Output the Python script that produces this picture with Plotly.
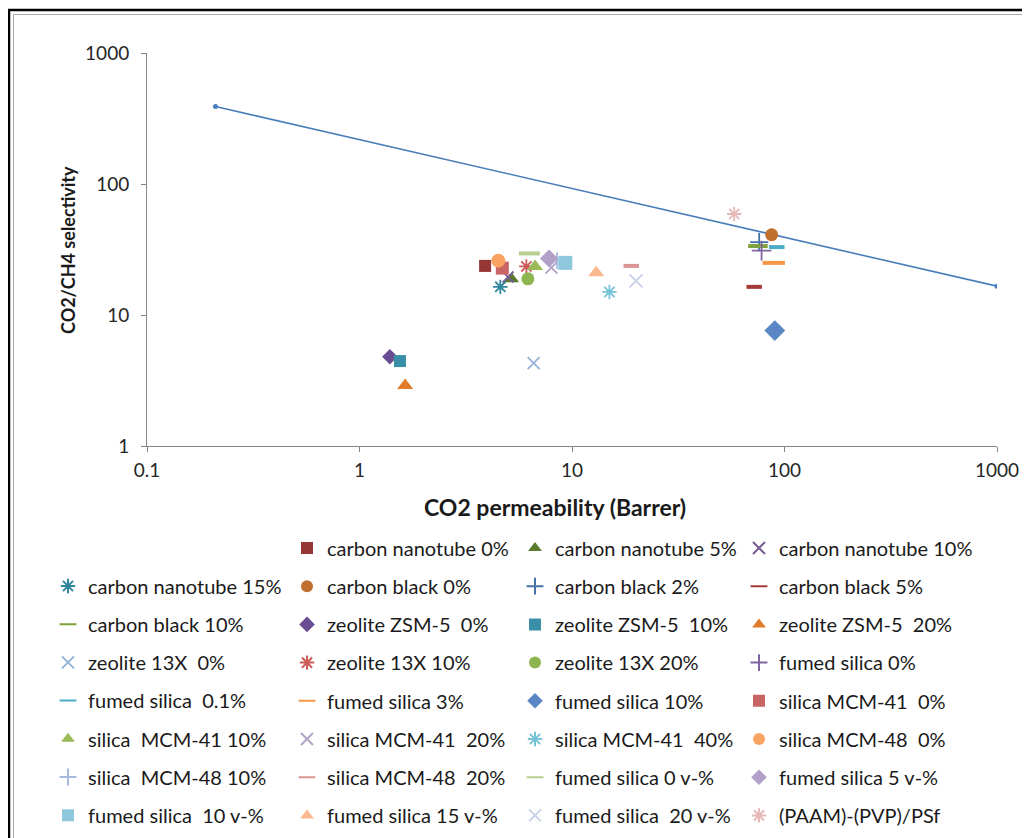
import plotly.graph_objects as go

# ---------------- data ----------------
series_names = [
    "carbon nanotube 0%", "carbon nanotube 5%", "carbon nanotube 10%",
    "carbon nanotube 15%", "carbon black 0%", "carbon black 2%", "carbon black 5%",
    "carbon black 10%", "zeolite ZSM-5  0%", "zeolite ZSM-5  10%", "zeolite ZSM-5  20%",
    "zeolite 13X  0%", "zeolite 13X 10%", "zeolite 13X 20%", "fumed silica 0%",
    "fumed silica  0.1%", "fumed silica 3%", "fumed silica 10%", "silica MCM-41  0%",
    "silica  MCM-41 10%", "silica MCM-41  20%", "silica MCM-41  40%", "silica MCM-48  0%",
    "silica  MCM-48 10%", "silica MCM-48  20%", "fumed silica 0 v-%", "fumed silica 5 v-%",
    "fumed silica  10 v-%", "fumed silica 15 v-%", "fumed silica  20 v-%", "(PAAM)-(PVP)/PSf",
]
co2_permeability = [
    3.9, 5.2, 5.0, 4.6, 87, 76, 72, 75, 1.39, 1.55, 1.64,
    6.6, 6.1, 6.2, 78, 92, 89, 90, 4.7, 6.7, 8.0, 15, 4.5,
    8.5, 19, 6.3, 7.8, 9.3, 13, 20, 58,
]
co2_ch4_selectivity = [
    23.7, 18.8, 19.5, 16.4, 41, 36, 16.4, 33.6, 4.8, 4.45, 2.9,
    4.3, 23.5, 18.9, 31, 33, 25, 7.6, 22.8, 23.5, 23, 15, 26,
    26, 23.7, 29.5, 27, 25, 21, 18.2, 59,
]
upper_bound_x = [0.21, 1000]
upper_bound_y = [390, 16.6]

x_tick_vals = [0.1, 1, 10, 100, 1000]
x_tick_text = ["0.1", "1", "10", "100", "1000"]
y_tick_vals = [1, 10, 100, 1000]
y_tick_text = ["1", "10", "100", "1000"]

# ---------------- styles ----------------
styles = [
    ("square", "#953735", 12), ("triangle-up", "#5A7A2E", 13), ("x-thin-open", "#7A5C95", 11),
    ("asterisk-open", "#31859C", 12), ("circle", "#C0702E", 13), ("cross-thin-open", "#4572A7", 13),
    ("line-ew-open", "#A33A38", 11), ("line-ew-open", "#7EA33E", 14), ("diamond", "#6A4C93", 12),
    ("square", "#3A8FA8", 12), ("triangle-up", "#E07B2A", 14), ("x-thin-open", "#95B3D7", 12),
    ("asterisk-open", "#CF5B58", 12), ("circle", "#8DB650", 13), ("cross-thin-open", "#8064A2", 14),
    ("line-ew-open", "#4BACC6", 11), ("line-ew-open", "#F79646", 16), ("diamond", "#5B86C5", 16),
    ("square", "#C86464", 13), ("triangle-up", "#9BBB59", 14), ("x-thin-open", "#B3A2C7", 12),
    ("asterisk-open", "#76C3D6", 12), ("circle", "#F9A363", 14), ("cross-thin-open", "#A7B9DE", 12),
    ("line-ew-open", "#D99694", 11), ("line-ew-open", "#B7CE8F", 15), ("diamond", "#B1A0C7", 14),
    ("square", "#8FC8DD", 14), ("triangle-up", "#FAB890", 14), ("x-thin-open", "#C6D2E8", 13),
    ("asterisk-open", "#E6B9B8", 12),
]

OFF = 8  # page body margin
W, H = 1030 - OFF, 838 - OFF
L, R, T, B = 147 - OFF, 997 - OFF, 53 - OFF, 446 - OFF  # plot area in figure pixels


def px_x(px):
    """screen pixel -> paper x"""
    return (px - OFF - L) / (R - L)


def px_y(py):
    """screen pixel -> paper y"""
    return (B - (py - OFF)) / (B - T)


fig = go.Figure()

fig.add_trace(go.Scatter(
    x=upper_bound_x, y=upper_bound_y, mode="lines+markers",
    line=dict(color="#4A7EBB", width=1.6),
    marker=dict(symbol="circle", size=5, color="#4A7EBB"),
    showlegend=False, hoverinfo="skip",
))

legend_ids = ["legend", "legend2", "legend3", "legend4"]
for i, name in enumerate(series_names):
    sym, col, size = styles[i]
    slot = i + 1
    is_line = sym.endswith("-open")
    lw = 4 if sym.startswith("line") else (1.8 if is_line else 0)
    fig.add_trace(go.Scatter(
        x=[co2_permeability[i]], y=[co2_ch4_selectivity[i]],
        mode="markers", name=name,
        legend=legend_ids[slot % 4], legendgroup=name,
        marker=dict(symbol=sym, size=size, color=col,
                    line=dict(color=col, width=lw)),
    ))

FONT = "Lato, Noto Sans, sans-serif"
axis_font = dict(family=FONT, size=19, color="#262626")
fig.update_xaxes(
    type="log", range=[-1, 3], tickvals=x_tick_vals, ticktext=x_tick_text,
    showline=True, linecolor="#868686", linewidth=1, ticks="outside",
    ticklen=5, tickcolor="#868686", showgrid=False, zeroline=False,
    tickfont=axis_font, mirror=False, ticklabelstandoff=2,
)
fig.update_yaxes(
    type="log", range=[0, 3], tickvals=y_tick_vals, ticktext=y_tick_text,
    showline=True, linecolor="#868686", linewidth=1, ticks="outside",
    ticklen=5, tickcolor="#868686", showgrid=False, zeroline=False,
    tickfont=axis_font, ticklabelstandoff=8,
)

LEG_FS = 20
item_h = 1.3 * LEG_FS + 3
leg_font = dict(family=FONT, size=LEG_FS, color="#1a1a1a")
col_marker_px = [74, 313, 541, 765]
first_center_px = [586, 548, 548, 548]
legend_layout = {}
for c, lid in enumerate(legend_ids):
    legend_layout[lid] = dict(
        x=px_x(col_marker_px[c] - 26), y=px_y(first_center_px[c] - (item_h / 2 + 5)),
        xanchor="left", yanchor="top", orientation="v",
        traceorder="grouped", tracegroupgap=38.2 - item_h, font=leg_font,
        bgcolor="rgba(0,0,0,0)", itemsizing="constant", itemwidth=30,
    )

fig.update_layout(
    width=W, height=H,
    margin=dict(l=L, r=W - R, t=T, b=H - B, autoexpand=False),
    paper_bgcolor="white", plot_bgcolor="white",
    showlegend=True,
    **legend_layout,
    annotations=[
        dict(text="<b>CO2 permeability (Barrer)</b>", xref="paper", yref="paper",
             x=px_x(555), y=px_y(507), xanchor="center", yanchor="middle",
             showarrow=False, font=dict(family=FONT, size=23, color="#1a1a1a")),
        dict(text="<b>CO2/CH4 selectivity</b>", xref="paper", yref="paper",
             x=px_x(68), y=px_y(250), xanchor="center", yanchor="middle", textangle=-90,
             showarrow=False, font=dict(family=FONT, size=18, color="#1a1a1a")),
    ],
    shapes=[
        dict(type="rect", xref="paper", yref="paper",
             x0=px_x(9), x1=px_x(1040), y0=px_y(850), y1=px_y(10),
             line=dict(color="black", width=2.5), fillcolor="rgba(0,0,0,0)", layer="below"),
        dict(type="rect", xref="paper", yref="paper",
             x0=px_x(13.5), x1=px_x(1040), y0=px_y(850), y1=px_y(14.5),
             line=dict(color="#AAAAAA", width=1), fillcolor="rgba(0,0,0,0)", layer="below"),
    ],
)

fig.write_html("out.html")
